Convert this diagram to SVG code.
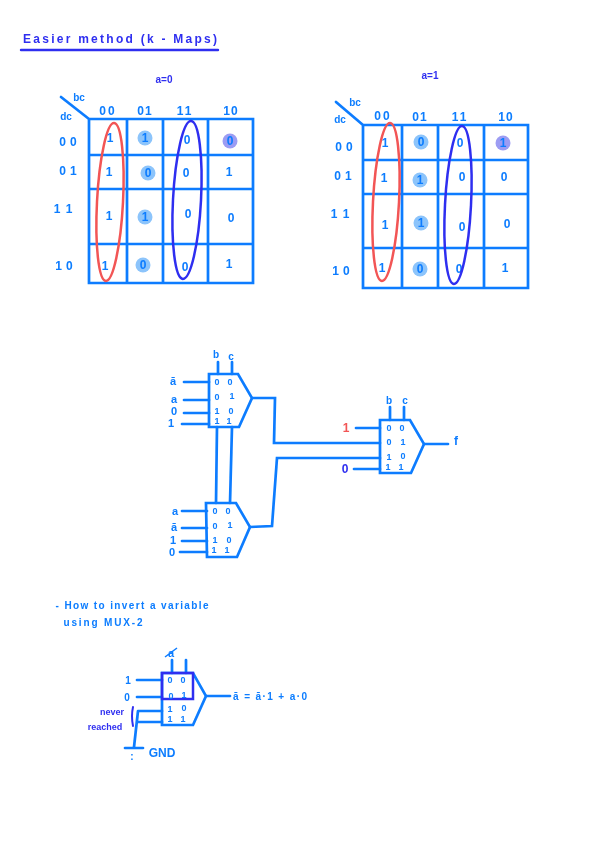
<svg xmlns="http://www.w3.org/2000/svg" width="599" height="848" viewBox="0 0 599 848">
<defs>
<filter id="soft" x="-5%" y="-5%" width="110%" height="110%"><feGaussianBlur stdDeviation="0.55"/></filter>
</defs>
<style>
.w{fill:none;stroke:#0a7cff;stroke-width:2.7;stroke-linejoin:miter;stroke-linecap:round}
.i{fill:none;stroke:#2f2ff0;stroke-width:2.4;stroke-linecap:round}
.r{fill:none;stroke:#f25555;stroke-width:2.5}
.b{fill:none;stroke:#2f2ff0;stroke-width:2.5}
text{font-family:"Liberation Sans",Arial,sans-serif;font-weight:700;fill:#0a7cff;text-anchor:middle;dominant-baseline:central}
.d{font-size:12px}
.s{font-size:9px}
.t{fill:#2f2ff0}
.hl{fill:#8cc4fb}
.hd{fill:#9c9cf3}
</style>
<rect width="599" height="848" fill="#fff"/>
<g filter="url(#soft)">
<g id="title">
<text x="120" y="39" font-size="12" class="t" textLength="194" lengthAdjust="spacing">Easier method (k - Maps)</text>
<line class="i" x1="21" y1="50" x2="218" y2="50"/>
</g>
<g id="kmap-a0">
<text x="164" y="79" font-size="10" class="t">a=0</text>
<path class="w" d="M61 97L89 119M89 119H253V283H89ZM127 119V283M163 119V283M208 119V283M89 155H253M89 189H253M89 244H253"/>
<text x="79" y="97" font-size="10">bc</text><text x="66" y="116" font-size="10">dc</text>
<g class="d">
<text x="108" y="111" letter-spacing="2">00</text><text x="145" y="111" letter-spacing="1">01</text><text x="185" y="111" letter-spacing="2">11</text><text x="231" y="111" letter-spacing="1">10</text>
<text x="70" y="142" letter-spacing="4">00</text><text x="70" y="171" letter-spacing="4">01</text><text x="66" y="209" letter-spacing="6">11</text><text x="66" y="266" letter-spacing="4">10</text>
<circle class="hl" cx="145" cy="138" r="7.5"/><circle class="hd" cx="230" cy="141" r="7.5"/><circle class="hl" cx="148" cy="173" r="7.5"/><circle class="hl" cx="145" cy="217" r="7.5"/><circle class="hl" cx="143" cy="265" r="7.5"/>
<text x="110" y="138">1</text><text x="145" y="138">1</text><text x="187" y="140">0</text><text x="230" y="141">0</text>
<text x="109" y="172">1</text><text x="148" y="173">0</text><text x="186" y="173">0</text><text x="229" y="172">1</text>
<text x="109" y="216">1</text><text x="145" y="217">1</text><text x="188" y="214">0</text><text x="231" y="218">0</text>
<text x="105" y="266">1</text><text x="143" y="265">0</text><text x="185" y="267">0</text><text x="229" y="264">1</text>
</g>
<ellipse class="r" cx="110" cy="202" rx="13" ry="79" transform="rotate(3 110 202)"/>
<ellipse class="b" cx="187" cy="200" rx="14" ry="79" transform="rotate(3 187 200)"/>
</g>
<g id="kmap-a1">
<text x="430" y="75" font-size="10" class="t">a=1</text>
<path class="w" d="M336 102L363 125M363 125H528V288H363ZM402 125V288M438 125V288M484 125V288M363 160H528M363 194H528M363 248H528"/>
<text x="355" y="102" font-size="10">bc</text><text x="340" y="119" font-size="10">dc</text>
<g class="d">
<text x="383" y="116" letter-spacing="2">00</text><text x="420" y="117" letter-spacing="1">01</text><text x="460" y="117" letter-spacing="2">11</text><text x="506" y="117" letter-spacing="1">10</text>
<text x="346" y="147" letter-spacing="4">00</text><text x="345" y="176" letter-spacing="4">01</text><text x="343" y="214" letter-spacing="6">11</text><text x="343" y="271" letter-spacing="4">10</text>
<circle class="hl" cx="421" cy="142" r="7.5"/><circle class="hd" cx="503" cy="143" r="7.5"/><circle class="hl" cx="420" cy="180" r="7.5"/><circle class="hl" cx="421" cy="223" r="7.5"/><circle class="hl" cx="420" cy="269" r="7.5"/>
<text x="385" y="143">1</text><text x="421" y="142">0</text><text x="460" y="143">0</text><text x="503" y="143">1</text>
<text x="384" y="178">1</text><text x="420" y="180">1</text><text x="462" y="177">0</text><text x="504" y="177">0</text>
<text x="385" y="225">1</text><text x="421" y="223">1</text><text x="462" y="227">0</text><text x="507" y="224">0</text>
<text x="382" y="268">1</text><text x="420" y="269">0</text><text x="459" y="269">0</text><text x="505" y="268">1</text>
</g>
<ellipse class="r" cx="386" cy="202" rx="13" ry="79" transform="rotate(3 386 202)"/>
<ellipse class="b" cx="458" cy="205" rx="13" ry="79" transform="rotate(3 458 205)"/>
</g>
<g id="connectors">
<path class="w" d="M218 362V374M232 362V374M184 382H209M184 400H209M184 413H209M182 424H209"/>
<path class="w" d="M217 427L216 503M232 427L230 503"/>
<path class="w" d="M252 398H275L274 443H380M250 527L272 526L277 458H380"/>
<path class="w" d="M182 511H207M182 528H207M182 541H207M180 552H207"/>
<path class="w" d="M390 407V420M404 407V420M356 428H380M354 469H380M424 444H448"/>
<path class="w" d="M172 660V673M186 660V673M137 680H162M137 697H162M138 711H162M138 722H162M138 711L134 747M125 748H143M206 696H230"/>
</g>
<g id="mux-top">
<path class="w" d="M209 374H238L252 398L239 427H209Z"/>
<text x="216" y="354" font-size="10">b</text><text x="231" y="356" font-size="10">c</text>
<text x="173" y="381" font-size="11">ā</text><text x="174" y="399" font-size="11">a</text><text x="174" y="411" font-size="11">0</text><text x="171" y="423" font-size="11">1</text>
<g class="s"><text x="217" y="382">0</text><text x="230" y="382">0</text><text x="217" y="397">0</text><text x="232" y="396">1</text><text x="217" y="411">1</text><text x="231" y="411">0</text><text x="217" y="421">1</text><text x="229" y="421">1</text></g>
</g>
<g id="mux-bottom">
<path class="w" d="M206 503H236L250 527L237 557H207Z"/>
<text x="175" y="511" font-size="11">a</text><text x="174" y="527" font-size="11">ā</text><text x="173" y="540" font-size="11">1</text><text x="172" y="552" font-size="11">0</text>
<g class="s"><text x="215" y="511">0</text><text x="228" y="511">0</text><text x="215" y="526">0</text><text x="230" y="525">1</text><text x="215" y="540">1</text><text x="229" y="540">0</text><text x="214" y="550">1</text><text x="227" y="550">1</text></g>
</g>
<g id="mux-out">
<path class="w" d="M380 420H410L424 444L411 473H380Z"/>
<text x="389" y="400" font-size="10">b</text><text x="405" y="400" font-size="10">c</text>
<text x="346" y="428" font-size="12" style="fill:#f25555">1</text><text x="345" y="469" font-size="12" class="t">0</text><text x="456" y="441" font-size="12">f</text>
<g class="s"><text x="389" y="428">0</text><text x="402" y="428">0</text><text x="389" y="442">0</text><text x="403" y="442">1</text><text x="389" y="457">1</text><text x="403" y="456">0</text><text x="388" y="467">1</text><text x="401" y="467">1</text></g>
</g>
<g id="note">
<text x="132" y="605" font-size="10" textLength="153" lengthAdjust="spacing">- How to invert a variable</text>
<text x="103" y="622" font-size="10" textLength="79" lengthAdjust="spacing">using MUX-2</text>
</g>
<g id="mux-invert">
<path class="w" d="M162 673H193L206 696L193 725H162Z"/>
<rect class="b" x="162" y="673" width="31" height="26"/>
<text x="171" y="653" font-size="11">a</text><line x1="165" y1="657" x2="177" y2="648" stroke="#0a7cff" stroke-width="1.5"/>
<text x="128" y="680" font-size="10">1</text><text x="127" y="697" font-size="10">0</text>
<path class="i" d="M133 707Q131 716 133 726" style="stroke-width:2"/>
<text x="112" y="712" font-size="9" class="t">never</text><text x="105" y="727" font-size="9" class="t">reached</text>
<text x="132" y="756" font-size="10">:</text>
<text x="162" y="753" font-size="12">GND</text>
<text x="270" y="696" font-size="10" textLength="74" lengthAdjust="spacing">ā = ā·1 + a·0</text>
<g class="s"><text x="170" y="680">0</text><text x="183" y="680">0</text><text x="171" y="696">0</text><text x="184" y="695">1</text><text x="170" y="709">1</text><text x="184" y="708">0</text><text x="170" y="719">1</text><text x="183" y="719">1</text></g>
</g>
</g>
</svg>
